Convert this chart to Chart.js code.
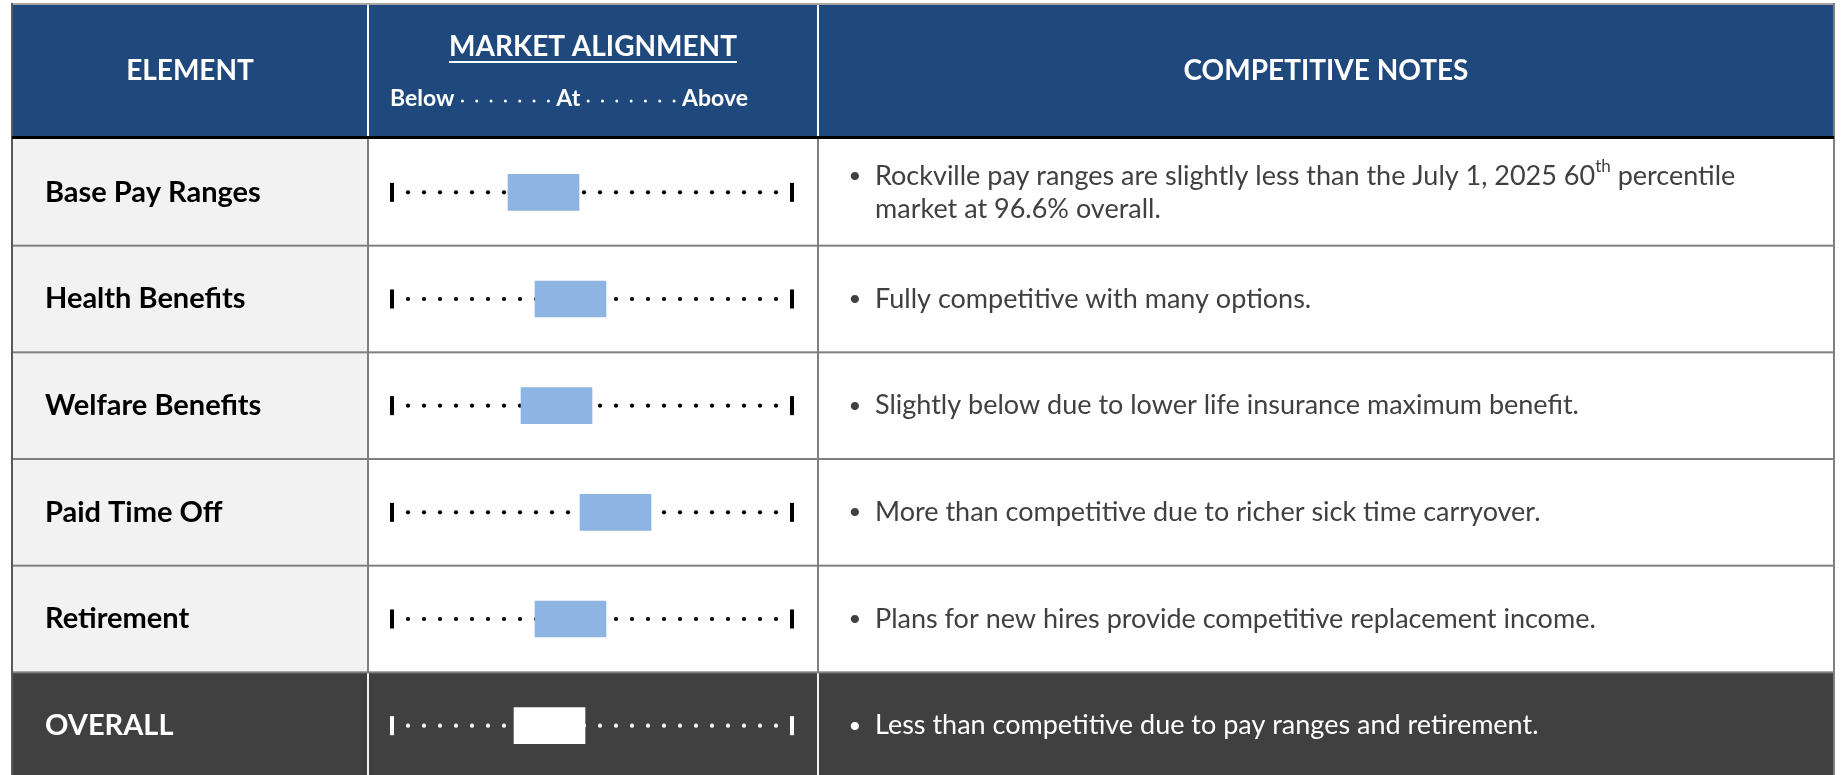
<!DOCTYPE html>
<html>
<head>
<meta charset="utf-8">
<title>Market Alignment</title>
<script src="https://cdn.jsdelivr.net/npm/chart.js@4.4.1/dist/chart.umd.min.js"></script>
<style>
    html, body { margin: 0; padding: 0; background: #fff; overflow: hidden; }
    canvas { display: block; }
</style>
</head>
<body>
<canvas id="alignChart" width="1841" height="779"></canvas>
<script>
// table rows
const elements = ['Base Pay Ranges', 'Health Benefits', 'Welfare Benefits', 'Paid Time Off', 'Retirement', 'OVERALL'];
// position of the box on the scale, 0 = below, 50 = at, 100 = above
const alignLow  = [29, 35.75, 32.25, 47, 35.75, 30.5];
const alignHigh = [46.75, 53.5, 50, 64.75, 53.5, 48.25];
const scaleLabels = ['Below', 'At', 'Above'];
const headers = ['ELEMENT', 'MARKET ALIGNMENT', 'COMPETITIVE NOTES'];
const notes = [
    ['Rockville pay ranges are slightly less than the July 1, 2025 60<sup>th</sup> percentile', 'market at 96.6% overall.'],
    ['Fully competitive with many options.'],
    ['Slightly below due to lower life insurance maximum benefit.'],
    ['More than competitive due to richer sick time carryover.'],
    ['Plans for new hires provide competitive replacement income.'],
    ['Less than competitive due to pay ranges and retirement.']
];

const FONT = 'Lato, "Open Sans", sans-serif';
const NAVY = '#1F497D';
const DARK = '#404040';
const GRID = '#7F7F7F';

// table frame
const TL = 12, TR = 1834, C1 = 368, C2 = 818, TOP = 5;

function vline(ctx, x, y0, y1, color, w) {
    ctx.fillStyle = color;
    ctx.fillRect(x - w / 2, y0, w, y1 - y0);
}
function hline(ctx, y, x0, x1, color, w) {
    ctx.fillStyle = color;
    ctx.fillRect(x0, y - w / 2, x1 - x0, w);
}

// draws a line of text that may hold one <sup>..</sup> part
function richText(ctx, str, x, y, size, color) {
    const parts = str.split(/<sup>|<\/sup>/);
    ctx.fillStyle = color;
    ctx.textAlign = 'left';
    ctx.textBaseline = 'middle';
    parts.forEach((p, i) => {
        const sup = i % 2 === 1;
        ctx.font = (sup ? Math.round(size * 0.62) : size) + 'px ' + FONT;
        ctx.fillText(p, x, sup ? y - size * 0.33 : y);
        x += ctx.measureText(p).width;
    });
}

// "Below ······· At ······· Above" under the column title
function scaleHeader(ctx, x0, x1, cy) {
    ctx.font = 'bold 23px ' + FONT;
    const dots = 7, pad = 8;
    const widths = scaleLabels.map(s => ctx.measureText(s).width);
    const run = (x1 - x0 - widths.reduce((a, b) => a + b, 0)) / (scaleLabels.length - 1);
    const dotGap = (run - pad * 2) / (dots - 1);
    let x = x0;
    ctx.fillStyle = '#FFFFFF';
    ctx.textAlign = 'left';
    ctx.textBaseline = 'middle';
    scaleLabels.forEach((s, i) => {
        ctx.fillText(s, x, cy);
        x += widths[i];
        if (i < scaleLabels.length - 1) {
            for (let d = 0; d < dots; d++) {
                ctx.beginPath();
                ctx.arc(x + pad + d * dotGap, cy + 2, 1.5, 0, Math.PI * 2);
                ctx.fill();
            }
            x += run;
        }
    });
}

const tablePlugin = {
    id: 'tablePlugin',
    beforeDatasetsDraw(chart) {
        const ctx = chart.ctx;
        const area = chart.chartArea;
        const xs = chart.scales.x, ys = chart.scales.y;
        const rowH = (area.bottom - area.top) / elements.length;
        const bottom = chart.height;
        ctx.save();

        // header band
        ctx.fillStyle = NAVY;
        ctx.fillRect(TL, TOP, TR - TL, area.top - TOP);
        hline(ctx, TOP - 1, TL, TR, '#A6A6A6', 2);
        vline(ctx, C1, TOP, area.top, '#FFFFFF', 2);
        vline(ctx, C2, TOP, area.top, '#FFFFFF', 2);

        ctx.fillStyle = '#FFFFFF';
        ctx.textAlign = 'center';
        ctx.textBaseline = 'middle';
        ctx.font = 'bold 28px ' + FONT;
        ctx.fillText(headers[0], (TL + C1) / 2, 71);
        ctx.fillText(headers[2], (C2 + TR) / 2, 71);
        ctx.fillText(headers[1], (C1 + C2) / 2, 47);
        const uw = ctx.measureText(headers[1]).width;
        hline(ctx, 62, (C1 + C2) / 2 - uw / 2, (C1 + C2) / 2 + uw / 2, '#FFFFFF', 2);
        scaleHeader(ctx, 390, 748, 99);

        // body rows
        elements.forEach((name, i) => {
            const cy = ys.getPixelForValue(i);
            const y0 = cy - rowH / 2;
            const dark = i === elements.length - 1;
            const ink = dark ? '#FFFFFF' : '#000000';

            ctx.fillStyle = dark ? DARK : '#F2F2F2';
            ctx.fillRect(TL, y0, C1 - TL, rowH);
            ctx.fillStyle = dark ? DARK : '#FFFFFF';
            ctx.fillRect(C1, y0, TR - C1, rowH);

            // element name
            ctx.fillStyle = ink;
            ctx.textAlign = 'left';
            ctx.textBaseline = 'middle';
            ctx.font = 'bold 29px ' + FONT;
            ctx.fillText(name, 45, cy);

            // dotted scale with end marks
            ctx.fillStyle = ink;
            for (let v = 4; v <= 96; v += 4) {
                ctx.beginPath();
                ctx.arc(xs.getPixelForValue(v), cy, 2.1, 0, Math.PI * 2);
                ctx.fill();
            }
            [0, 100].forEach(v => ctx.fillRect(xs.getPixelForValue(v) - 2, cy - 9.5, 4, 19));

            // notes
            const lines = notes[i];
            const noteColor = dark ? '#FFFFFF' : DARK;
            const lh = 33;
            lines.forEach((ln, k) => {
                const ly = cy + (k - (lines.length - 1) / 2) * lh;
                ctx.fillStyle = noteColor;
                if (k === 0) {
                    ctx.font = '22px ' + FONT;
                    ctx.textAlign = 'center';
                    ctx.fillText('\u2022', 855, ly);
                }
                richText(ctx, ln, 875, ly, 27, noteColor);
            });
        });

        // grid lines
        for (let i = 1; i < elements.length; i++) {
            const y = ys.getPixelForValue(i) - rowH / 2;
            hline(ctx, y, TL, TR, GRID, 2);
        }
        const lastTop = ys.getPixelForValue(elements.length - 1) - rowH / 2;
        vline(ctx, C1, area.top, lastTop, GRID, 2);
        vline(ctx, C2, area.top, lastTop, GRID, 2);
        vline(ctx, C1, lastTop + 1, bottom, '#F2F2F2', 2);
        vline(ctx, C2, lastTop + 1, bottom, '#F2F2F2', 2);
        vline(ctx, TL, TOP - 2, bottom, '#595959', 2);
        vline(ctx, TR, TOP - 2, bottom, GRID, 2);
        hline(ctx, area.top - 1.5, TL, TR, '#000000', 3);

        ctx.restore();
    }
};

new Chart(document.getElementById('alignChart'), {
    type: 'bar',
    data: {
        labels: elements,
        datasets: [{
            data: elements.map((e, i) => [alignLow[i], alignHigh[i]]),
            backgroundColor: elements.map((e, i) => i === elements.length - 1 ? '#FFFFFF' : '#8EB4E3'),
            borderWidth: 0,
            borderSkipped: false,
            barThickness: 36
        }]
    },
    options: {
        indexAxis: 'y',
        responsive: false,
        animation: false,
        events: [],
        layout: { padding: { left: 392, right: 1049, top: 139, bottom: 0 } },
        scales: {
            x: { type: 'linear', min: 0, max: 100, display: false },
            y: { display: false }
        },
        plugins: {
            legend: { display: false },
            tooltip: { enabled: false }
        }
    },
    plugins: [tablePlugin]
});
</script>
</body>
</html>
